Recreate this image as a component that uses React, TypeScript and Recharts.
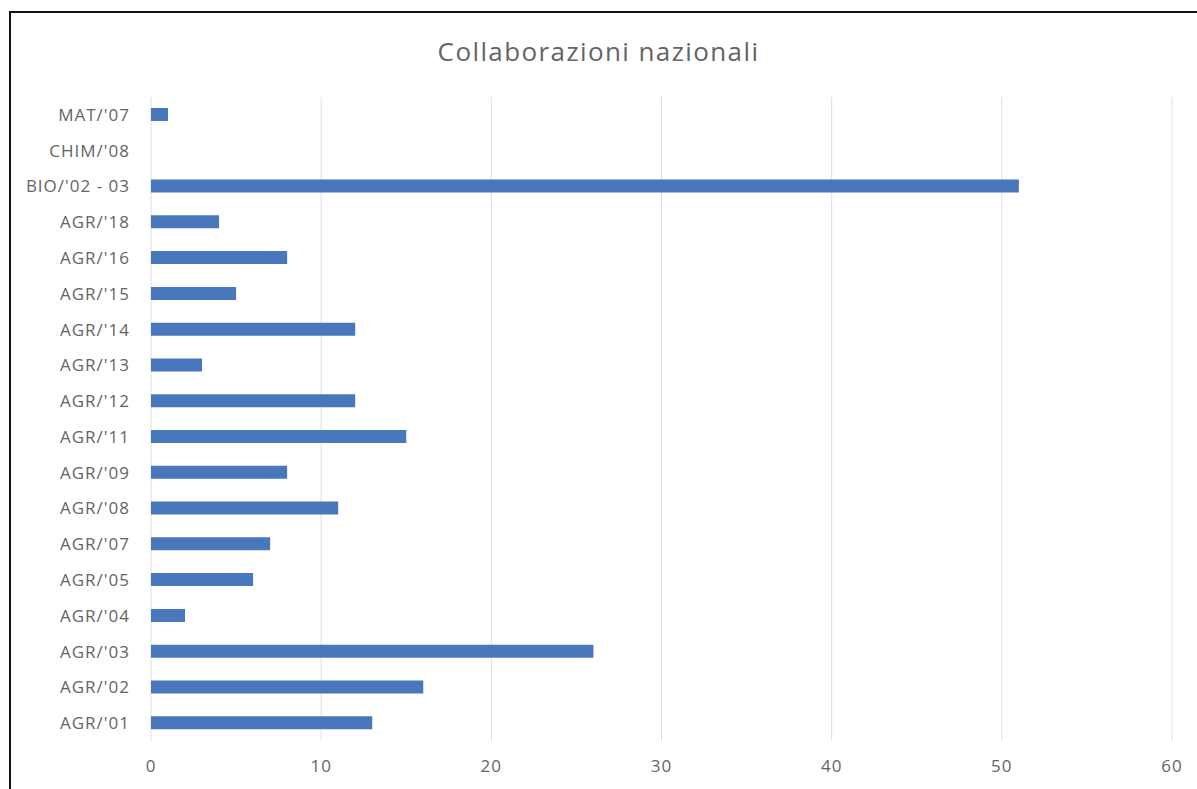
import { BarChart, Bar, XAxis, YAxis, CartesianGrid } from 'recharts';

const categories = [
  "MAT/'07", "CHIM/'08", "BIO/'02 - 03", "AGR/'18", "AGR/'16", "AGR/'15",
  "AGR/'14", "AGR/'13", "AGR/'12", "AGR/'11", "AGR/'09", "AGR/'08",
  "AGR/'07", "AGR/'05", "AGR/'04", "AGR/'03", "AGR/'02", "AGR/'01",
];
const values = [1, 0, 51, 4, 8, 5, 12, 3, 12, 15, 8, 11, 7, 6, 2, 26, 16, 13];
const xTicks = [0, 10, 20, 30, 40, 50, 60];

const data = categories.map((name, i) => ({ name, value: values[i] }));

const FONT = '"Open Sans", "Noto Sans", sans-serif';
const TEXT = '#646464';

export default function App() {
  return (
    <div style={{ position: 'fixed', left: 0, top: 0, width: 1197, height: 789, background: '#fff', fontFamily: FONT }}>
      <div style={{ position: 'absolute', left: 9, top: 11, width: 1188, height: 778, borderLeft: '2px solid #111', borderTop: '2px solid #111' }} />
      <div style={{ position: 'absolute', left: 0, top: 33, width: 1197, textAlign: 'center', fontSize: 26, letterSpacing: 1.4, color: TEXT }}>
        Collaborazioni nazionali
      </div>
      <div style={{ position: 'absolute', left: 0, top: 0 }}>
        <BarChart
          width={1197}
          height={789}
          data={data}
          layout="vertical"
          margin={{ top: 97, right: 25, bottom: 8, left: 0 }}
        >
          <CartesianGrid horizontal={false} stroke="#dedede" />
          <XAxis
            type="number"
            domain={[0, 60]}
            ticks={xTicks}
            axisLine={false}
            tickLine={false}
            tickMargin={13}
            height={40}
            tick={{ fill: TEXT, fontSize: 17, fontFamily: FONT, letterSpacing: 1 }}
          />
          <YAxis
            type="category"
            dataKey="name"
            width={151}
            axisLine={false}
            tickLine={false}
            tickMargin={15}
            interval={0}
            tick={{ fill: TEXT, fontSize: 17, fontFamily: FONT, letterSpacing: 1 }}
          />
          <Bar dataKey="value" fill="#4877BC" barSize={13} isAnimationActive={false} />
        </BarChart>
      </div>
    </div>
  );
}
